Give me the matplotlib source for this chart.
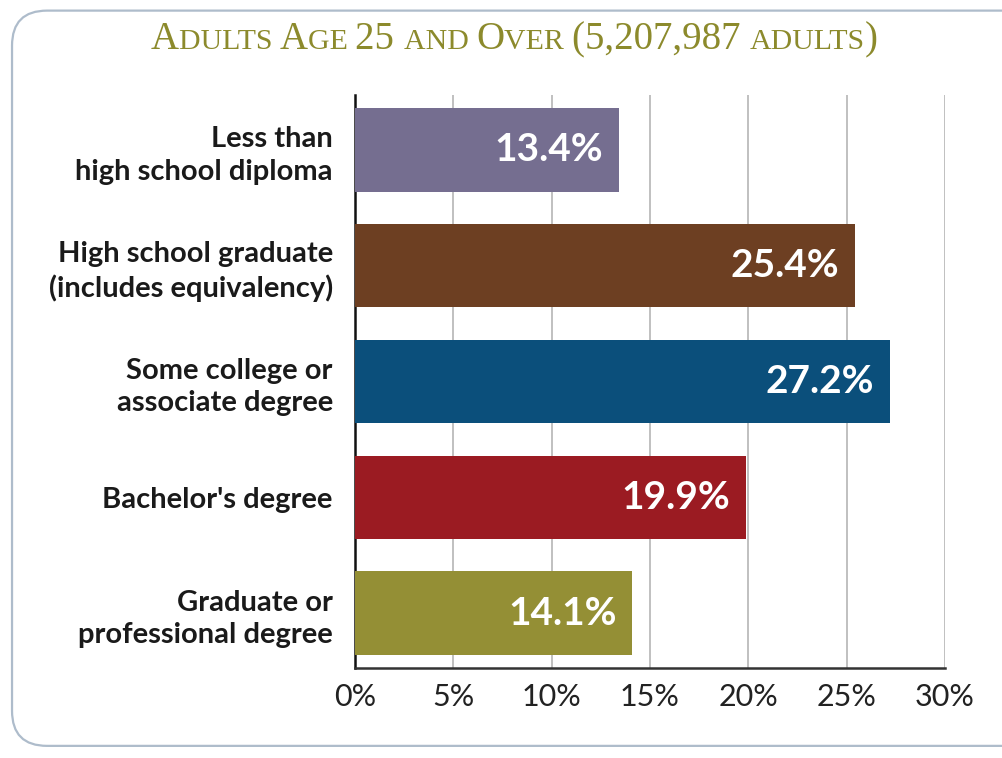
import matplotlib
matplotlib.use("Agg")
import matplotlib.pyplot as plt
from matplotlib.patches import FancyBboxPatch

# educational attainment, adults 25 and over
categories = ["Less than\nhigh school diploma",
              "High school graduate\n(includes equivalency)",
              "Some college or\nassociate degree",
              "Bachelor's degree",
              "Graduate or\nprofessional degree"]
shares = [13.4, 25.4, 27.2, 19.9, 14.1]
bar_colors = ["#756e90", "#6d3f22", "#0b4f7b", "#9b1b22", "#948f35"]
ticks = [0, 5, 10, 15, 20, 25, 30]
tick_labels = ["0%", "5%", "10%", "15%", "20%", "25%", "30%"]

fig = plt.figure(figsize=(10.02, 7.58), dpi=100)

# rounded frame round the whole panel
frame = FancyBboxPatch((0.012, 0.016), 1.2, 0.97, transform=fig.transFigure,
                       boxstyle="round,pad=0,rounding_size=0.035",
                       facecolor="none", edgecolor="#aebccb", linewidth=1.6,
                       mutation_aspect=1002 / 758, zorder=0)
fig.patches.append(frame)

ax = fig.add_axes([0.3543, 0.1187, 0.5888, 0.7560])
ax.patch.set_alpha(0)
ypos = list(range(len(categories)))
ax.barh(ypos, shares, height=0.72, color=bar_colors, zorder=3)
ax.set_xlim(0, 30)
ax.set_ylim(4.474, -0.474)
ax.set_xticks(ticks)
ax.set_xticklabels(tick_labels, fontsize=22, family="Lato", color="#222222")
ax.tick_params(axis="x", length=0, pad=11)
ax.set_yticks(ypos)
ax.set_yticklabels(categories, fontsize=21, family="Lato", fontweight="bold",
                   color="#1a1a1a", linespacing=1.3)
ax.tick_params(axis="y", length=0, pad=16)
ax.grid(axis="x", color="#b5b5b5", linewidth=1.2, zorder=0)
ax.set_axisbelow(True)
for side in ["top", "right"]:
    ax.spines[side].set_visible(False)
ax.spines["left"].set_color("#111111")
ax.spines["left"].set_linewidth(1.8)
ax.spines["bottom"].set_color("#333333")
ax.spines["bottom"].set_linewidth(1.8)

# value labels inside the bar ends
for y, v in zip(ypos, shares):
    ax.text(v - 0.8, y, f"{v:.1f}%", ha="right", va="center", color="white",
            fontsize=28, family="Lato", fontweight="bold", zorder=4)

# title in small capitals, built piece by piece
title_color = "#8c8a2c"
big, small = 28, 21.5
pieces = [("A", big), ("DULTS ", small), ("A", big), ("GE ", small),
          ("25 ", big), ("AND ", small), ("O", big), ("VER ", small),
          ("(5,207,987 ", big), ("ADULTS", small), (")", big)]
renderer = fig.canvas.get_renderer()
texts = []
x = 0.0
for s, size in pieces:
    t = fig.text(x, 0.935, s, fontsize=size, family="Liberation Serif",
                 color=title_color, ha="left", va="baseline")
    texts.append(t)
    w = t.get_window_extent(renderer).width / fig.bbox.width
    x += w
start = 0.5135 - x / 2
for t in texts:
    t.set_x(t.get_position()[0] + start)

fig.savefig("out.png", dpi=100)
